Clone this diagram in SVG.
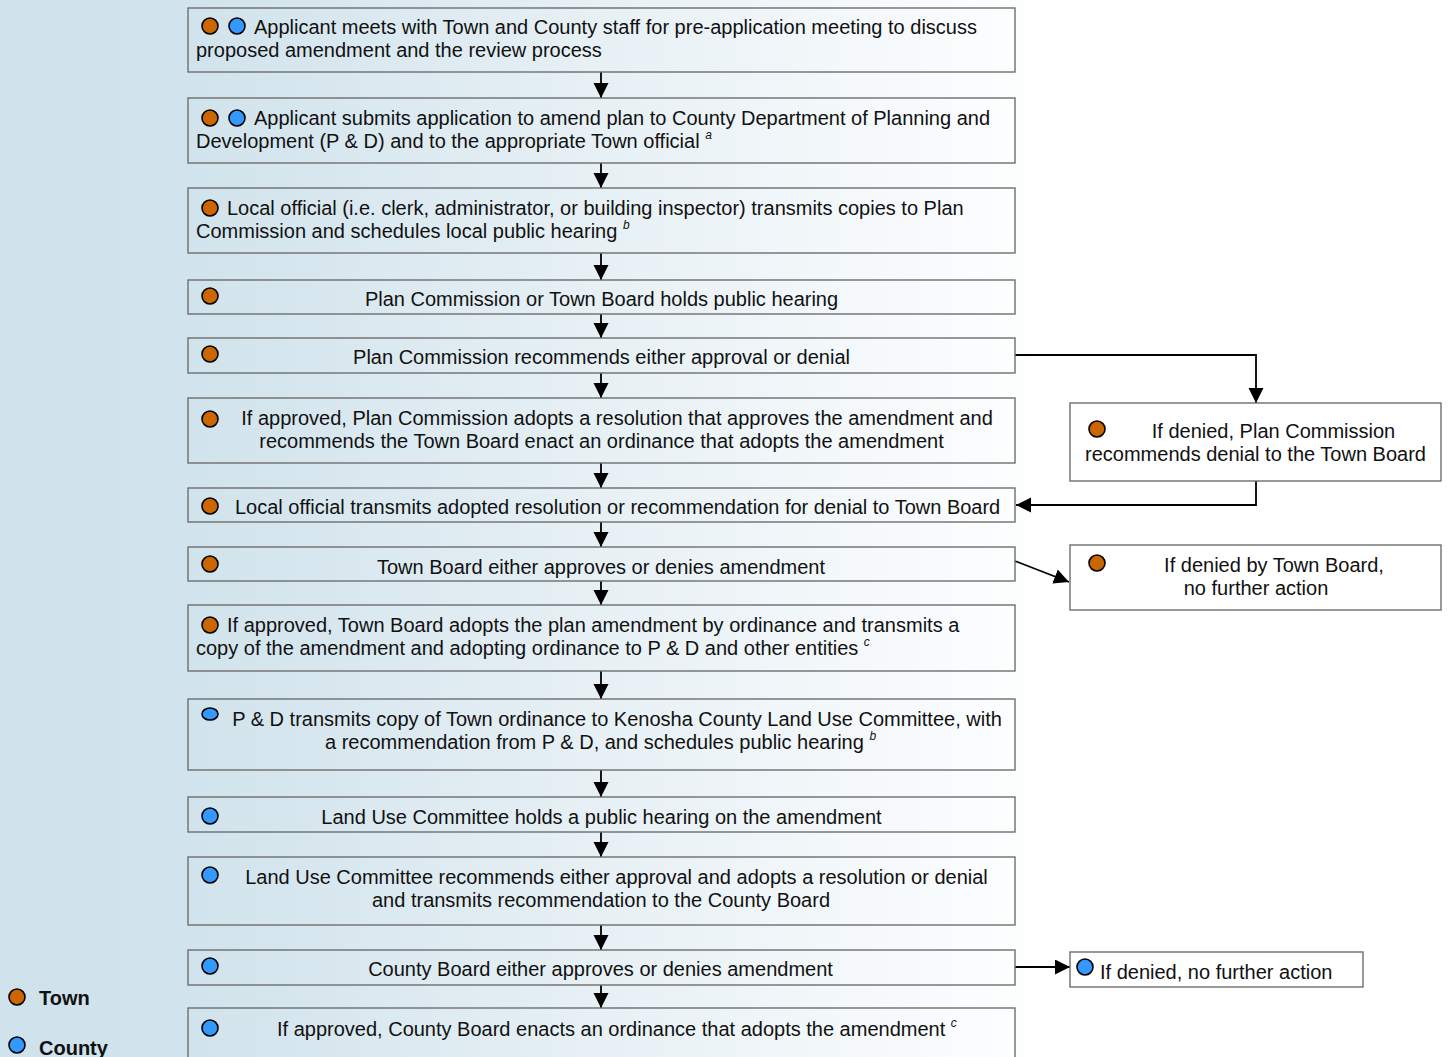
<svg xmlns="http://www.w3.org/2000/svg" width="1448" height="1057" viewBox="0 0 1448 1057">
<defs>
<linearGradient id="bg" gradientUnits="userSpaceOnUse" x1="0" y1="0" x2="1060" y2="0">
<stop offset="0" stop-color="#cfe2eb"/>
<stop offset="0.18" stop-color="#d1e3ec"/>
<stop offset="1" stop-color="#ffffff"/>
</linearGradient>
<marker id="ah" markerWidth="16" markerHeight="16" refX="15" refY="7.5" orient="auto" markerUnits="userSpaceOnUse">
<path d="M0,0 L15,7.5 L0,15 Z" fill="#000"/>
</marker>
<style>
.box{fill:none;stroke:#6e6e6e;stroke-width:1.4}
.t{font-family:"Liberation Sans",Arial,sans-serif;font-size:20px;fill:#111}
.m{text-anchor:middle}
.sup{font-family:"Liberation Sans",Arial,sans-serif;font-size:12px;font-style:italic;fill:#111}
.town{fill:#cc6600;stroke:#000;stroke-width:1.6}
.county{fill:#3399ff;stroke:#000;stroke-width:1.6}
.leg{font-family:"Liberation Sans",Arial,sans-serif;font-size:20px;font-weight:bold;fill:#111}
.c{fill:none;stroke:#000;stroke-width:1.8}
</style>
</defs>
<rect x="0" y="0" width="1448" height="1057" fill="url(#bg)"/>

<g id="connectors">
<line class="c" x1="601" y1="72" x2="601" y2="98" marker-end="url(#ah)"/>
<line class="c" x1="601" y1="163" x2="601" y2="188" marker-end="url(#ah)"/>
<line class="c" x1="601" y1="253" x2="601" y2="280" marker-end="url(#ah)"/>
<line class="c" x1="601" y1="314" x2="601" y2="338" marker-end="url(#ah)"/>
<line class="c" x1="601" y1="373" x2="601" y2="398" marker-end="url(#ah)"/>
<line class="c" x1="601" y1="463" x2="601" y2="488" marker-end="url(#ah)"/>
<line class="c" x1="601" y1="522" x2="601" y2="547" marker-end="url(#ah)"/>
<line class="c" x1="601" y1="581" x2="601" y2="605" marker-end="url(#ah)"/>
<line class="c" x1="601" y1="671" x2="601" y2="699" marker-end="url(#ah)"/>
<line class="c" x1="601" y1="770" x2="601" y2="797" marker-end="url(#ah)"/>
<line class="c" x1="601" y1="832" x2="601" y2="857" marker-end="url(#ah)"/>
<line class="c" x1="601" y1="925" x2="601" y2="950" marker-end="url(#ah)"/>
<line class="c" x1="601" y1="985" x2="601" y2="1008" marker-end="url(#ah)"/>
<polyline class="c" points="1015,355 1256,355 1256,403" marker-end="url(#ah)"/>
<polyline class="c" points="1256,481 1256,505 1016,505" marker-end="url(#ah)"/>
<line class="c" x1="1015" y1="561" x2="1069" y2="582" marker-end="url(#ah)"/>
<line class="c" x1="1015" y1="967" x2="1070" y2="967" marker-end="url(#ah)"/>
</g>

<g id="n1">
<rect class="box" x="188" y="8" width="827" height="64"/>
<circle class="town" cx="210" cy="26" r="8"/>
<circle class="county" cx="237" cy="26" r="8"/>
<text class="t" x="254" y="34">Applicant meets with Town and County staff for pre-application meeting to discuss</text>
<text class="t" x="196" y="57">proposed amendment and the review process</text>
</g>

<g id="n2">
<rect class="box" x="188" y="98" width="827" height="65"/>
<circle class="town" cx="210" cy="118" r="8"/>
<circle class="county" cx="237" cy="118" r="8"/>
<text class="t" x="254" y="125">Applicant submits application to amend plan to County Department of Planning and</text>
<text class="t" x="196" y="148">Development (P &amp; D) and to the appropriate Town official <tspan class="sup" dy="-9">a</tspan></text>
</g>

<g id="n3">
<rect class="box" x="188" y="188" width="827" height="65"/>
<circle class="town" cx="210" cy="208" r="8"/>
<text class="t" x="227" y="215">Local official (i.e. clerk, administrator, or building inspector) transmits copies to Plan</text>
<text class="t" x="196" y="238">Commission and schedules local public hearing <tspan class="sup" dy="-9">b</tspan></text>
</g>

<g id="n4">
<rect class="box" x="188" y="280" width="827" height="34"/>
<circle class="town" cx="210" cy="296" r="8"/>
<text class="t m" x="601.5" y="306">Plan Commission or Town Board holds public hearing</text>
</g>

<g id="n5">
<rect class="box" x="188" y="338" width="827" height="35"/>
<circle class="town" cx="210" cy="354" r="8"/>
<text class="t m" x="601.5" y="364">Plan Commission recommends either approval or denial</text>
</g>

<g id="n6">
<rect class="box" x="188" y="398" width="827" height="65"/>
<circle class="town" cx="210" cy="419" r="8"/>
<text class="t m" x="617" y="425">If approved, Plan Commission adopts a resolution that approves the amendment and</text>
<text class="t m" x="601.5" y="448">recommends the Town Board enact an ordinance that adopts the amendment</text>
</g>

<g id="n7">
<rect class="box" x="188" y="488" width="827" height="34"/>
<circle class="town" cx="210" cy="506" r="8"/>
<text class="t" x="235" y="514">Local official transmits adopted resolution or recommendation for denial to Town Board</text>
</g>

<g id="n8">
<rect class="box" x="188" y="547" width="827" height="34"/>
<circle class="town" cx="210" cy="564" r="8"/>
<text class="t m" x="601" y="574">Town Board either approves or denies amendment</text>
</g>

<g id="n9">
<rect class="box" x="188" y="605" width="827" height="66"/>
<circle class="town" cx="210" cy="625" r="8"/>
<text class="t" x="227" y="632">If approved, Town Board adopts the plan amendment by ordinance and transmits a</text>
<text class="t" x="196" y="655">copy of the amendment and adopting ordinance to P &amp; D and other entities <tspan class="sup" dy="-9">c</tspan></text>
</g>

<g id="n10">
<rect class="box" x="188" y="699" width="827" height="71"/>
<ellipse class="county" cx="210" cy="714" rx="8" ry="6"/>
<text class="t m" x="617" y="726">P &amp; D transmits copy of Town ordinance to Kenosha County Land Use Committee, with</text>
<text class="t" x="325" y="749">a recommendation from P &amp; D, and schedules public hearing <tspan class="sup" dy="-9">b</tspan></text>
</g>

<g id="n11">
<rect class="box" x="188" y="797" width="827" height="35"/>
<circle class="county" cx="210" cy="816" r="8"/>
<text class="t m" x="601.5" y="824">Land Use Committee holds a public hearing on the amendment</text>
</g>

<g id="n12">
<rect class="box" x="188" y="857" width="827" height="68"/>
<circle class="county" cx="210" cy="875" r="8"/>
<text class="t m" x="616.5" y="884">Land Use Committee recommends either approval and adopts a resolution or denial</text>
<text class="t m" x="601" y="907">and transmits recommendation to the County Board</text>
</g>

<g id="n13">
<rect class="box" x="188" y="950" width="827" height="35"/>
<circle class="county" cx="210" cy="966" r="8"/>
<text class="t m" x="600.5" y="976">County Board either approves or denies amendment</text>
</g>

<g id="n14">
<rect class="box" x="188" y="1008" width="827" height="60"/>
<circle class="county" cx="210" cy="1028" r="8"/>
<text class="t" x="277" y="1036">If approved, County Board enacts an ordinance that adopts the amendment <tspan class="sup" dy="-9">c</tspan></text>
</g>

<g id="sideA">
<rect class="box" x="1070" y="403" width="371" height="78"/>
<circle class="town" cx="1097" cy="429" r="8"/>
<text class="t m" x="1273.5" y="438">If denied, Plan Commission</text>
<text class="t m" x="1255.5" y="461">recommends denial to the Town Board</text>
</g>

<g id="sideB">
<rect class="box" x="1070" y="545" width="371" height="65"/>
<circle class="town" cx="1097" cy="563" r="8"/>
<text class="t m" x="1274" y="572">If denied by Town Board,</text>
<text class="t m" x="1256" y="595">no further action</text>
</g>

<g id="sideC">
<rect class="box" x="1070" y="952" width="293" height="35"/>
<circle class="county" cx="1085" cy="967" r="8"/>
<text class="t" x="1100" y="979">If denied, no further action</text>
</g>

<g id="legend">
<circle class="town" cx="17" cy="997" r="8"/>
<text class="leg" x="39" y="1005">Town</text>
<circle class="county" cx="17" cy="1045" r="8"/>
<text class="leg" x="39" y="1055">County</text>
</g>
</svg>
